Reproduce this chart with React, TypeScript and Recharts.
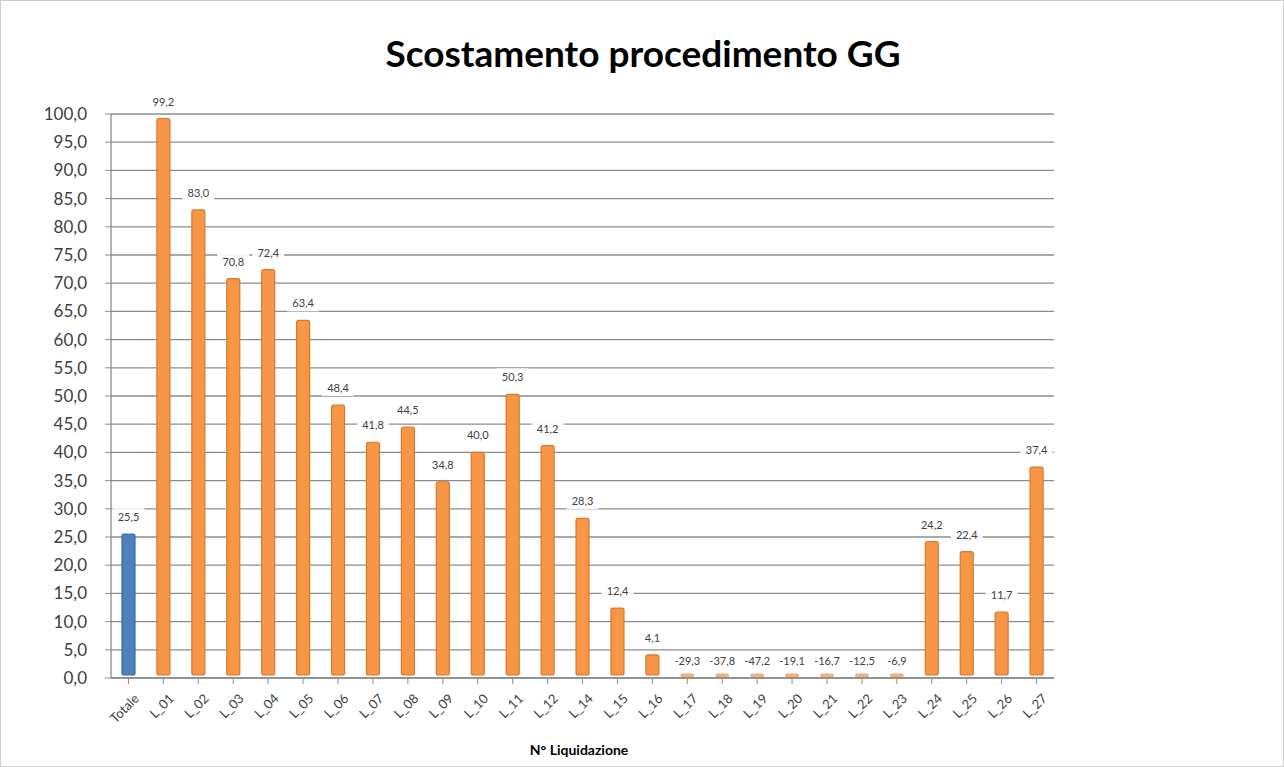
import { BarChart, Bar, XAxis, YAxis, CartesianGrid, Cell, LabelList } from "recharts";

const categories = [
  "Totale", "L_01", "L_02", "L_03", "L_04", "L_05", "L_06", "L_07", "L_08", "L_09", "L_10", "L_11", "L_12",
  "L_14", "L_15", "L_16", "L_17", "L_18", "L_19", "L_20", "L_21", "L_22", "L_23", "L_24", "L_25", "L_26", "L_27",
];
const scostamento = [
  25.5, 99.2, 83.0, 70.8, 72.4, 63.4, 48.4, 41.8, 44.5, 34.8, 40.0, 50.3, 41.2,
  28.3, 12.4, 4.1, -29.3, -37.8, -47.2, -19.1, -16.7, -12.5, -6.9, 24.2, 22.4, 11.7, 37.4,
];
const yTicks = [0, 5, 10, 15, 20, 25, 30, 35, 40, 45, 50, 55, 60, 65, 70, 75, 80, 85, 90, 95, 100];

const data = categories.map((name, i) => ({
  name,
  value: scostamento[i],
  shown: Math.max(scostamento[i], 0),
}));

const FONT = "Lato, 'Open Sans', sans-serif";
const fmt = (v: number) => v.toFixed(1).replace(".", ",");

function BarShape(props: any) {
  const { x, y, width, height, fill, stroke } = props;
  if (!height || height < 1) {
    // flattened column: value below the axis minimum
    return <rect x={x} y={y - 4} width={width} height={3} rx={1.5} fill={fill} stroke={stroke} strokeWidth={0.8} opacity={0.7} />;
  }
  return <rect x={x} y={y} width={width} height={height - 3} rx={2} fill={fill} stroke={stroke} strokeWidth={1.2} />;
}

function ValueLabel(props: any) {
  const { x, y, width, value } = props;
  const txt = fmt(Number(value));
  const cx = x + width / 2;
  const cy = y - 17;
  const w = txt.length * 6 + 8;
  return (
    <g>
      <rect x={cx - w / 2} y={cy - 9} width={w} height={17} fill="#ffffff" opacity={0.92} />
      <text x={cx} y={cy + 4} textAnchor="middle" fontSize={11} fontFamily={FONT} fill="#404040">
        {txt}
      </text>
    </g>
  );
}

function XTick(props: any) {
  const { x, y, payload } = props;
  return (
    <text x={x + 4} y={y + 6} transform={`rotate(-45 ${x + 4} ${y + 6})`} textAnchor="end" dominantBaseline="hanging"
      fontSize={13} fontFamily={FONT} fill="#404040">
      {payload.value}
    </text>
  );
}

export default function App() {
  return (
    <div style={{ position: "absolute", left: 0, top: 0, width: 1284, height: 767, background: "#fff", boxSizing: "border-box", border: "1px solid #d0d0d0", overflow: "hidden" }}>
      <div style={{ position: "absolute", left: 0, width: 1284, top: 31, textAlign: "center", fontFamily: FONT, fontWeight: 700, fontSize: 37, color: "#000", lineHeight: "42px" }}>
        Scostamento procedimento GG
      </div>
      <BarChart width={1284} height={767} data={data} margin={{ top: 113, right: 231, bottom: 0, left: 0 }} barCategoryGap={0}>
        <CartesianGrid vertical={false} stroke="#8c8c8c" strokeWidth={1.3} />
        <XAxis dataKey="name" interval={0} tick={<XTick />} tickLine={{ stroke: "#8c8c8c" }} axisLine={{ stroke: "#8c8c8c", strokeWidth: 1.3 }} height={90} />
        <YAxis width={110} domain={[0, 100]} ticks={yTicks} allowDataOverflow tickFormatter={fmt}
          tick={{ fontSize: 17, fontFamily: FONT, fill: "#404040" }} tickLine={{ stroke: "#8c8c8c" }}
          axisLine={{ stroke: "#8c8c8c", strokeWidth: 1.3 }} tickMargin={18} />
        <Bar dataKey="shown" barSize={13} isAnimationActive={false} shape={<BarShape />}>
          {data.map((d, i) => (
            <Cell key={d.name} fill={i === 0 ? "#4f81bd" : "#f79646"} stroke={i === 0 ? "#3a6aa5" : "#d9772a"} />
          ))}
          <LabelList dataKey="value" content={<ValueLabel />} />
        </Bar>
      </BarChart>
      <div style={{ position: "absolute", left: 478, width: 200, top: 740, textAlign: "center", fontFamily: FONT, fontWeight: 700, fontSize: 14, color: "#000" }}>
        N° Liquidazione
      </div>
    </div>
  );
}
